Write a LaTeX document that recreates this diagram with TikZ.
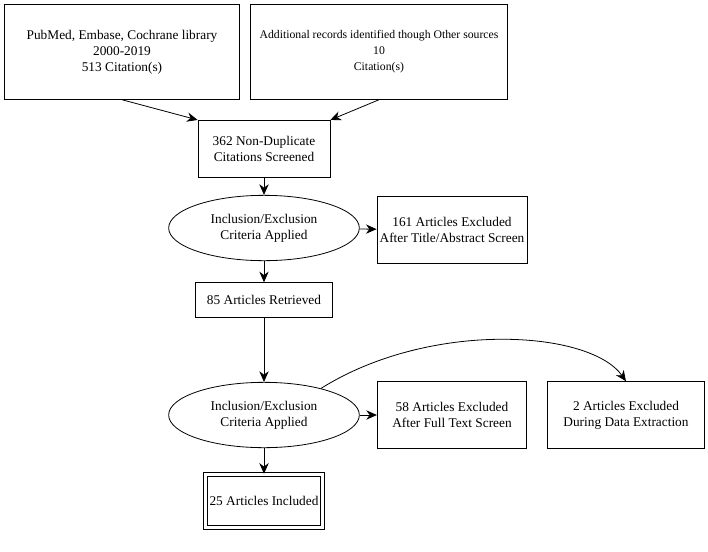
\documentclass[tikz,border=0pt]{standalone}
\usepackage{fontspec}
\setmainfont{Liberation Serif}
\usetikzlibrary{positioning,shapes.geometric,arrows.meta,calc}

\begin{document}
\begin{tikzpicture}[x=0.75pt,y=-0.75pt,
    box/.style={draw=black, semithick, align=center, inner sep=2pt, font=\fontsize{10}{12}\selectfont},
    oval/.style={draw=black, semithick, ellipse, align=center, minimum width=143pt, minimum height=49pt, inner sep=0pt, font=\fontsize{10}{12}\selectfont},
    arr/.style={semithick, draw=black, -{Stealth[length=8pt,width=7pt]}}]
    \useasboundingbox (0,0) rectangle (708,551);
    \node[box, minimum width=176pt, minimum height=71pt] (Search) at (122,52) {PubMed, Embase, Cochrane library\\2000-2019\\513 Citation(s)};
    \node[box, minimum width=193pt, minimum height=71pt, inner sep=0pt, font=\fontsize{8.8}{12}\selectfont] (Other) at (379,52) {Additional records identified though Other sources\\10\\Citation(s)};
    \node[box, minimum width=99pt, minimum height=43pt] (Screened) at (264,149) {362 Non-Duplicate\\Citations Screened};
    \node[oval] (Crit1) at (264,228) {Inclusion/Exclusion\\Criteria Applied};
    \node[box, minimum width=112pt, minimum height=50pt] (Excl1) at (452,230) {161 Articles Excluded\\After Title/Abstract Screen};
    \node[box, minimum width=103pt, minimum height=26pt] (Retrieved) at (264,300) {85 Articles Retrieved};
    \node[oval] (Crit2) at (264,415) {Inclusion/Exclusion\\Criteria Applied};
    \node[box, minimum width=112pt, minimum height=50pt] (Excl2) at (452,415) {58 Articles Excluded\\After Full Text Screen};
    \node[box, minimum width=118pt, minimum height=50pt] (Excl3) at (626,415) {2 Articles Excluded\\During Data Extraction};
    \node[box, thick, double, double distance=2.2pt, minimum width=88pt, minimum height=40pt] (Included) at (264,501) {25 Articles Included};
    \draw[arr] (Search.south) -- (Screened.north west);
    \draw[arr] (Other.south) -- (Screened.north east);
    \draw[arr] (Screened) -- (Crit1);
    \draw[arr] (Crit1) -- (Excl1);
    \draw[arr] (Crit1) -- (Retrieved);
    \draw[arr] (Retrieved) -- (Crit2);
    \draw[arr] (Crit2) -- (Excl2);
    \draw[arr] (Crit2.25) .. controls (430,320) and (590,330) .. (Excl3.north);
    \draw[arr] (Crit2) -- (Included);
\end{tikzpicture}
\end{document}
